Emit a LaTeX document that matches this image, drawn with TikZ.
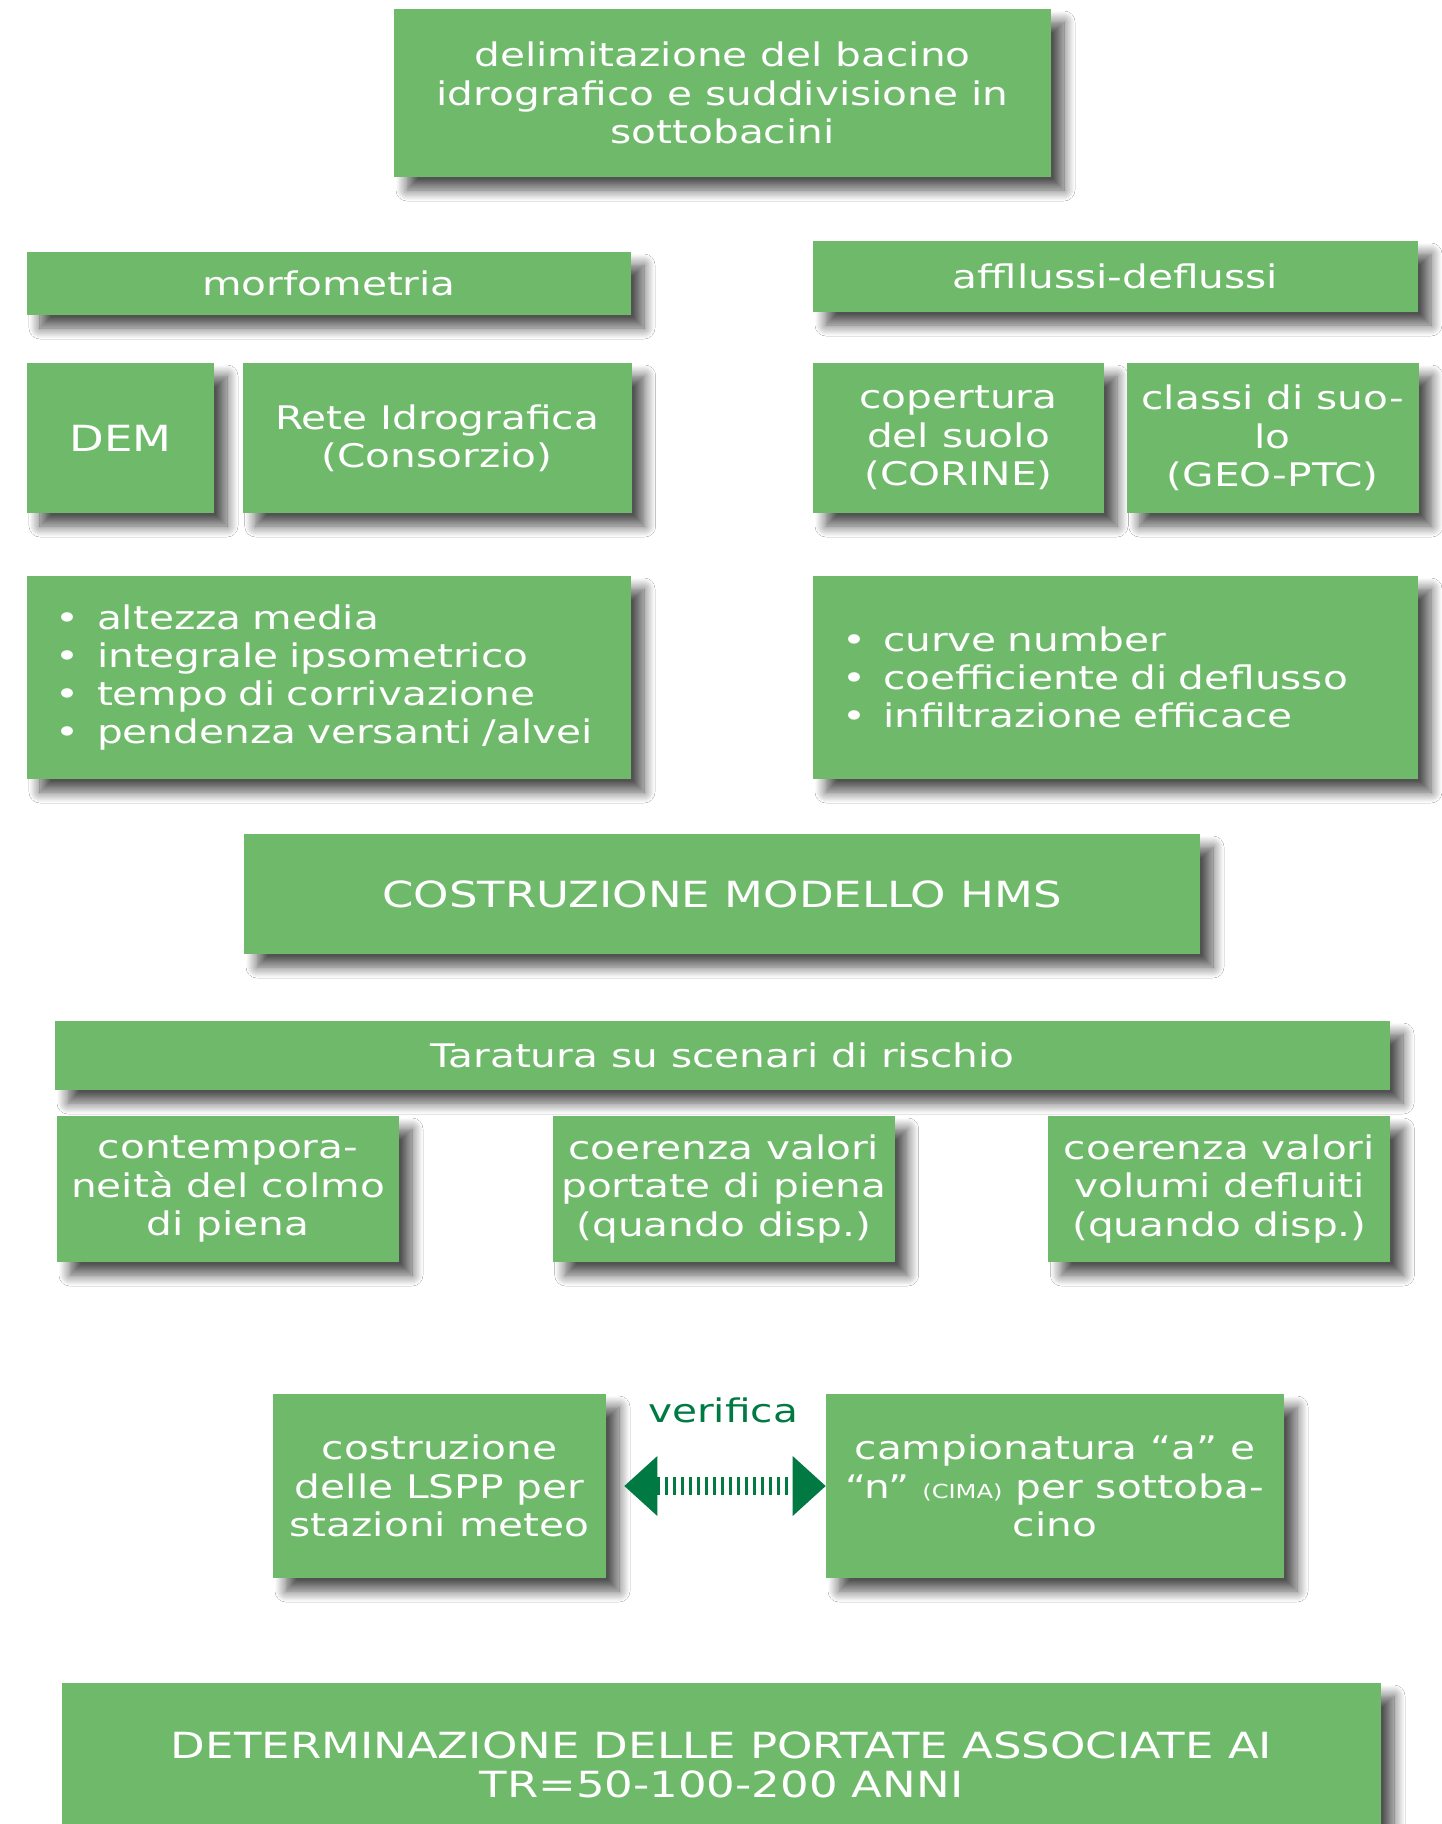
\documentclass[tikz,border=0pt]{standalone}
\usepackage{fontspec}
\setmainfont{DejaVu Sans}[FakeStretch=1.25]
\usepackage{xcolor}
\usepackage{tikz}
\usetikzlibrary{positioning, arrows.meta, shadows.blur}
\definecolor{boxgreen}{RGB}{111,186,106}
\definecolor{arrowgreen}{RGB}{0,121,67}
\newcommand{\pt}{\makebox[0.82cm][l]{•}}

\begin{document}
\begin{tikzpicture}[box/.style={rectangle, fill=boxgreen, text=white, align=center, inner xsep=0.1cm, font=\fontsize{18.5}{21.8}\selectfont, blur shadow={shadow xshift=0.26cm, shadow yshift=-0.26cm, shadow blur radius=0.22cm, shadow blur steps=12, shadow opacity=68}}, capsbox/.style={box, font=\fontsize{20.5}{22.5}\selectfont}, listbox/.style={box, align=left, inner xsep=0.58cm}, verarrow/.style={arrowgreen, line width=0.36cm, dash pattern=on 0.06cm off 0.1cm, {Triangle[length=0.66cm, width=1.2cm, line width=0pt]}-{Triangle[length=0.66cm, width=1.2cm, line width=0pt]}, shorten <=0.36cm}]
\useasboundingbox (0,0) rectangle (28.84,-36.48);
\clip (0,0) rectangle (28.84,-36.48);
\fill[white] (0,0) rectangle (28.84,-36.48);
% header
\node[box, minimum width=13.14cm, minimum height=3.36cm] (bacino) at (14.45,-1.86) {delimitazione del bacino\\idrografico e suddivisione in\\sottobacini};
% two columns
\node[box, minimum width=12.08cm, minimum height=1.26cm] (morfo) at (6.58,-5.67) {morfometria};
\node[box, minimum width=12.10cm, minimum height=1.42cm] (affl) at (22.31,-5.53) {affllussi-deflussi};
\node[capsbox, minimum width=3.74cm, minimum height=3cm] (dem) at (2.41,-8.76) {DEM};
\node[box, minimum width=7.78cm, minimum height=3cm, right=0.56cm of dem] (rete) {Rete Idrografica\\(Consorzio)};
\node[box, minimum width=5.82cm, minimum height=3cm] (cop) at (19.17,-8.76) {copertura\\del suolo\\(CORINE)};
\node[box, minimum width=5.84cm, minimum height=3cm, right=0.44cm of cop] (classi) {classi di suo-\\lo\\(GEO-PTC)};
\node[listbox, minimum width=12.08cm, minimum height=4.06cm, text width=10.92cm] (parmorfo) at (6.58,-13.55) {\pt altezza media\\\pt integrale ipsometrico\\\pt tempo di corrivazione\\\pt pendenza versanti /alvei};
\node[listbox, minimum width=12.10cm, minimum height=4.06cm, text width=10.94cm] (paraffl) at (22.31,-13.55) {\pt curve number\\\pt coefficiente di deflusso\\\pt infiltrazione efficace};
% model
\node[capsbox, minimum width=19.12cm, minimum height=2.4cm] (hms) at (14.44,-17.88) {COSTRUZIONE MODELLO HMS};
\node[box, minimum width=26.7cm, minimum height=1.38cm] (tar) at (14.45,-21.11) {Taratura su scenari di rischio};
\node[box, minimum width=6.84cm, minimum height=2.92cm] (colmo) at (4.56,-23.78) {contempora-\\neità del colmo\\di piena};
\node[box, minimum width=6.84cm, minimum height=2.92cm, right=3.06cm of colmo] (portate) {coerenza valori\\portate di piena\\(quando disp.)};
\node[box, minimum width=6.84cm, minimum height=2.92cm, right=3.06cm of portate] (volumi) {coerenza valori\\volumi defluiti\\(quando disp.)};
% rainfall
\node[box, minimum width=6.66cm, minimum height=3.68cm] (lspp) at (8.79,-29.72) {costruzione\\delle LSPP per\\stazioni meteo};
\node[box, minimum width=9.16cm, minimum height=3.68cm] (camp) at (21.10,-29.72) {campionatura “a” e\\“n” {\fontsize{11}{12}\selectfont(CIMA)} per sottoba-\\cino};
\draw[verarrow] (lspp.east) -- node[midway, above=1.08cm, inner sep=0pt, xshift=0.14cm, text=arrowgreen, font=\fontsize{18.5}{21.8}\selectfont] (verlbl) {verifica} (camp.west);
% result
\node[capsbox, minimum width=26.38cm, minimum height=3.28cm] (portata) at (14.43,-35.3) {DETERMINAZIONE DELLE PORTATE ASSOCIATE AI\\TR=50-100-200 ANNI};
\end{tikzpicture}
\end{document}
